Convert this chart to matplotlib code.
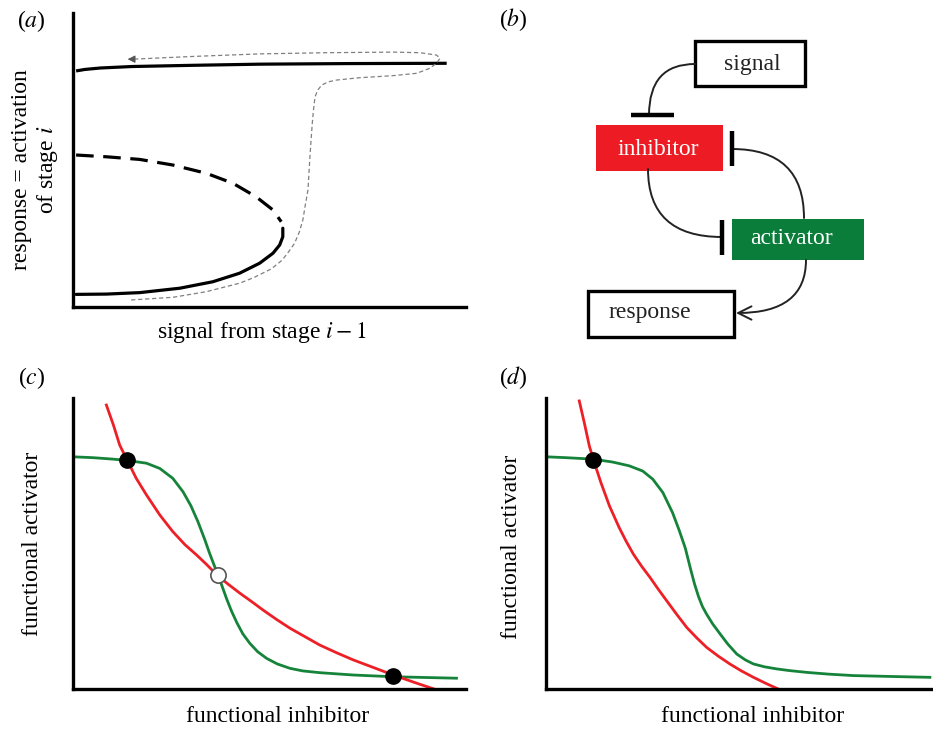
import matplotlib
matplotlib.use("Agg")
from matplotlib import pyplot as plt
from matplotlib.patches import Rectangle, FancyArrowPatch

plt.rcParams["font.family"] = ["Liberation Serif", "DejaVu Serif"]
plt.rcParams["mathtext.fontset"] = "stix"

# ---- panel (a): bistable response curve (axis units 0-100) ----
upper_x = [0.8, 3.0, 7.0, 15.0, 30.0, 47.6, 70.0, 95.1]
upper_y = [80.3, 80.8, 81.3, 81.8, 82.2, 82.6, 82.8, 82.9]
unstable_x = [0.8, 8.5, 17.0, 25.4, 33.9, 40.7, 46.6, 50.9, 53.0]
unstable_y = [51.7, 51.1, 50.2, 48.3, 45.5, 42.1, 37.5, 33.0, 29.0]
lower_x = [0.8, 8.5, 17.0, 27.2, 35.6, 42.4, 47.5, 50.9, 52.6, 53.4, 53.4]
lower_y = [4.3, 4.4, 4.9, 6.4, 8.6, 11.5, 14.9, 18.3, 21.1, 23.9, 26.8]
path_x = [14.8, 25.4, 33.9, 42.4, 46.0, 50.5, 53.2, 55.0, 56.4, 57.6, 58.5, 59.1, 59.8,
          60.3, 60.6, 60.9, 61.2, 61.6, 62.3, 63.3, 65.0, 67.1, 73.0, 81.5, 87.5, 90.8,
          92.5, 93.4, 92.5, 88.3, 81.5, 64.6, 47.6, 30.0, 15.3]
path_y = [2.4, 3.3, 5.2, 8.1, 10.0, 13.0, 15.9, 19.0, 21.7, 25.5, 29.6, 34.5, 39.8,
          51.1, 57.0, 62.5, 67.0, 71.5, 73.8, 75.5, 76.6, 77.2, 78.0, 78.7, 79.5, 81.2,
          82.9, 84.6, 85.7, 86.5, 86.7, 86.5, 86.1, 85.2, 84.3]

# ---- panel (c): nullclines, bistable case ----
c_red_x = [8.5, 10.3, 11.9, 14.0, 16.1, 18.7, 22.1, 25.4, 28.5, 31.5, 34.0, 36.6, 39.5,
           42.5, 45.5, 48.4, 51.8, 55.2, 59.0, 62.8, 67.0, 71.3, 76.4, 81.5, 87.0, 92.5]
c_red_y = [97.6, 90.7, 83.8, 78.1, 72.4, 66.7, 59.8, 54.1, 49.6, 46.0, 42.8, 39.2, 36.0,
           32.9, 30.0, 27.1, 23.9, 20.9, 18.0, 15.1, 12.5, 10.0, 7.4, 4.8, 2.2, -0.3]
c_green_x = [0, 5.1, 10.2, 14.0, 18.7, 22.1, 25.4, 28.0, 30.0, 31.8, 33.5, 34.8, 36.0,
             36.9, 37.9, 39.1, 40.3, 41.7, 43.2, 45.0, 47.0, 49.3, 52.0, 55.2, 58.5,
             62.8, 71.3, 81.5, 97.6]
c_green_y = [79.8, 79.5, 79.0, 78.5, 77.6, 75.8, 72.4, 67.8, 63.0, 57.5, 51.5, 46.5, 42.3,
             39.2, 35.5, 31.0, 26.9, 22.8, 19.0, 15.7, 12.8, 10.5, 8.6, 7.1, 6.2,
             5.6, 4.8, 4.2, 3.7]
c_stable_x = [13.8, 81.5]
c_stable_y = [78.7, 4.3]
c_unstable_x = [36.8]
c_unstable_y = [39.2]

# ---- panel (d): nullclines, monostable case ----
d_red_x = [8.6, 9.9, 11.2, 12.5, 14.2, 16.4, 18.9, 20.7, 22.6, 24.7, 26.9, 29.0, 31.2,
           33.8, 36.4, 39.0, 41.5, 44.5, 47.5, 50.5, 53.6, 57.0, 60.5]
d_red_y = [99.0, 91.5, 83.5, 77.8, 70.9, 62.9, 55.5, 50.8, 46.3, 42.2, 38.3, 34.3, 30.3,
           25.6, 21.1, 17.5, 14.3, 11.3, 8.6, 6.2, 4.0, 1.8, -0.3]
d_green_x = [0, 5.2, 12.1, 17.2, 21.5, 25.0, 27.6, 30.2, 32.7, 34.4, 36.0, 37.4, 38.4,
             39.4, 40.4, 41.5, 43.1, 45.0, 47.0, 49.3, 51.5, 53.6, 56.5, 59.6, 63.0,
             67.4, 73.0, 79.4, 89.0, 99.2]
d_green_y = [79.8, 79.5, 79.0, 78.0, 76.7, 74.9, 72.1, 67.5, 60.6, 54.6, 48.4, 41.0, 36.0,
             31.8, 28.4, 25.7, 22.3, 18.9, 15.4, 12.0, 10.0, 8.6, 7.6, 6.9, 6.3,
             5.7, 5.1, 4.6, 4.3, 4.0]
d_stable_x = [12.1]
d_stable_y = [78.7]

# ---- panel (b): network diagram (local pixel units) ----
box_names = ["signal", "inhibitor", "activator", "response"]
box_xy = [(229, 41), (130, 125), (266, 219), (122, 291)]
box_wh = [(110, 45), (127, 46), (132, 41), (146, 46)]
box_face = ["white", "#ED1C24", "#0A7D3B", "white"]
box_edge = ["black", "none", "none", "black"]
box_text_xy = [(286.5, 70.0), (192.5, 155), (325.3, 243.5), (183.8, 318.0)]
box_text_color = ["#222222", "white", "white", "#222222"]
# arcs: start, end, connection style, head
arcs = [((229, 64), (183, 115), "angle3,angleA=0,angleB=90", "-"),
        ((338, 218), (266, 149), "angle3,angleA=90,angleB=0", "-"),
        ((182, 169), (256, 237), "angle3,angleA=90,angleB=0", "-"),
        ((340, 260), (270, 313), "angle3,angleA=90,angleB=0", "->")]
bars = [((165, 208), (115, 115)), ((266, 266), (131, 166)), ((256, 256), (220, 255))]

RED = "#EE2027"
GREEN = "#15843A"
FS = 17

fig = plt.figure(figsize=(9.33, 7.31), dpi=100)


def style_axes(ax):
    ax.set_xlim(0, 100)
    ax.set_ylim(0, 100)
    ax.set_xticks([])
    ax.set_yticks([])
    for s in ["top", "right"]:
        ax.spines[s].set_visible(False)
    for s in ["left", "bottom"]:
        ax.spines[s].set_linewidth(2.4)
        ax.spines[s].set_color("black")


# (a)
ax_a = fig.add_axes([0.0782, 0.580, 0.4212, 0.4022])
style_axes(ax_a)
ax_a.plot(upper_x, upper_y, color="black", lw=2.3, solid_capstyle="butt")
ax_a.plot(unstable_x, unstable_y, color="black", lw=2.3, linestyle=(0, (5.5, 3.0)))
ax_a.plot(lower_x, lower_y, color="black", lw=2.3, solid_capstyle="round")
ax_a.plot(path_x, path_y, color="#808080", lw=0.9, linestyle=(0, (3.4, 2.2)))
ax_a.annotate("", xy=(13.2, 84.3), xytext=(15.5, 84.3),
              arrowprops=dict(arrowstyle="-|>", color="#555555", lw=0.8, mutation_scale=11))
ax_a.text(-0.095, 0.466, "response = activation\nof stage $i$", transform=ax_a.transAxes,
          rotation=90, ha="center", va="center", fontsize=FS, linespacing=1.2)
ax_a.text(0.481, -0.088, "signal from stage $i-1$", transform=ax_a.transAxes,
          ha="center", va="center", fontsize=FS)

# (b)
ax_b = fig.add_axes([466 / 933, 1 - 360 / 731, 467 / 933, 360 / 731])
ax_b.set_xlim(0, 467)
ax_b.set_ylim(360, 0)
ax_b.axis("off")
for name, xy, wh, fc, ec, txy, tc in zip(box_names, box_xy, box_wh, box_face, box_edge,
                                         box_text_xy, box_text_color):
    ax_b.add_patch(Rectangle(xy, wh[0], wh[1], facecolor=fc, edgecolor=ec, lw=2.4))
    ax_b.text(txy[0], txy[1], name, color=tc, fontsize=FS, ha="center", va="baseline")
for start, end, cs, head in arcs:
    ax_b.add_patch(FancyArrowPatch(start, end, connectionstyle=cs, arrowstyle=head,
                                   mutation_scale=24, lw=1.4, color="#222222",
                                   shrinkA=0, shrinkB=0))
for bx, by in bars:
    ax_b.plot(bx, by, color="black", lw=3.2, solid_capstyle="butt")

# (c)
ax_c = fig.add_axes([0.0782, 0.0575, 0.4212, 0.398])
style_axes(ax_c)
ax_c.plot(c_green_x, c_green_y, color=GREEN, lw=2.0)
ax_c.plot(c_red_x, c_red_y, color=RED, lw=2.0)
ax_c.plot(c_stable_x, c_stable_y, "o", color="black", ms=11, zorder=5)
ax_c.plot(c_unstable_x, c_unstable_y, "o", mfc="white", mec="#555555", mew=1.2, ms=11, zorder=5)
ax_c.text(-0.1026, 0.497, "functional activator", transform=ax_c.transAxes,
          rotation=90, ha="center", va="center", fontsize=FS)
ax_c.text(0.520, -0.096, "functional inhibitor", transform=ax_c.transAxes,
          ha="center", va="center", fontsize=FS)

# (d)
ax_d = fig.add_axes([0.5852, 0.0575, 0.4148, 0.398])
style_axes(ax_d)
ax_d.plot(d_green_x, d_green_y, color=GREEN, lw=2.0)
ax_d.plot(d_red_x, d_red_y, color=RED, lw=2.0)
ax_d.plot(d_stable_x, d_stable_y, "o", color="black", ms=11, zorder=5)
ax_d.text(-0.0904, 0.49, "functional activator", transform=ax_d.transAxes,
          rotation=90, ha="center", va="center", fontsize=FS)
ax_d.text(0.534, -0.096, "functional inhibitor", transform=ax_d.transAxes,
          ha="center", va="center", fontsize=FS)

# panel letters
for lab, px, py in [("a", 31.5, 21), ("b", 513, 20), ("c", 31.5, 378), ("d", 513, 378)]:
    fig.text(px / 933, 1 - py / 731, "($%s$)" % lab, ha="center", va="center", fontsize=FS)

fig.savefig("out.png", dpi=100)
